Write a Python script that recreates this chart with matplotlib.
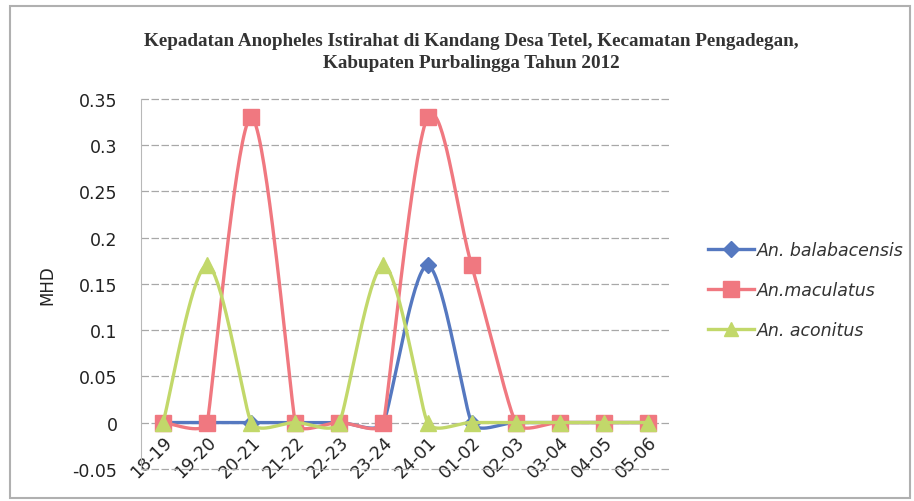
import numpy as np
import matplotlib
matplotlib.use("Agg")
import matplotlib.pyplot as plt
from matplotlib.lines import Line2D
from matplotlib.patches import Rectangle

categories = ["18-19", "19-20", "20-21", "21-22", "22-23", "23-24",
              "24-01", "01-02", "02-03", "03-04", "04-05", "05-06"]
balabacensis = [0, 0, 0, 0, 0, 0, 0.17, 0, 0, 0, 0, 0]
maculatus = [0, 0, 0.33, 0, 0, 0, 0.33, 0.17, 0, 0, 0, 0]
aconitus = [0, 0.17, 0, 0, 0, 0.17, 0, 0, 0, 0, 0, 0]

title_lines = ["Kepadatan Anopheles Istirahat di Kandang Desa Tetel, Kecamatan Pengadegan,",
               "Kabupaten Purbalingga Tahun 2012"]
labels = ["An. balabacensis", "An.maculatus", "An. aconitus"]


def smooth(ax, y, n=40):
    """Bezier smoothing (Excel-like) computed in display space."""
    pts = ax.transData.transform(np.column_stack([np.arange(len(y)), y]))
    m = len(pts)
    tang = np.zeros_like(pts)
    for i in range(m):
        pm = pts[i - 1] if i > 0 else pts[i]
        pp = pts[i + 1] if i < m - 1 else pts[i]
        t = (pp - pm) / 6.0
        d = []
        if i > 0:
            d.append(np.linalg.norm(pts[i] - pts[i - 1]))
        if i < m - 1:
            d.append(np.linalg.norm(pts[i + 1] - pts[i]))
        cap = 0.33 * min(d)
        ln = np.linalg.norm(t)
        if ln > cap and ln > 0:
            t = t * cap / ln
        tang[i] = t
    out = []
    tt = np.linspace(0, 1, n)[:, None]
    for i in range(m - 1):
        p0, p3 = pts[i], pts[i + 1]
        c1, c2 = p0 + tang[i], p3 - tang[i + 1]
        b = ((1 - tt) ** 3) * p0 + 3 * ((1 - tt) ** 2) * tt * c1 + 3 * (1 - tt) * tt ** 2 * c2 + tt ** 3 * p3
        out.append(b)
    out = ax.transData.inverted().transform(np.vstack(out))
    return out[:, 0], out[:, 1]


fig = plt.figure(figsize=(9.14, 5.02), dpi=100)
fig.patch.set_facecolor("white")
fig.patches.append(Rectangle((0.011, 0.006), 0.985, 0.98, transform=fig.transFigure,
                             fill=False, edgecolor="#b0b0b0", linewidth=1.5))

ax = fig.add_axes([0.1543, 0.0637, 0.733 - 0.1543, 0.8008 - 0.0637])
ax.spines["bottom"].set_position(("data", 0))
ax.spines["bottom"].set_visible(False)
for s in ["top", "right"]:
    ax.spines[s].set_visible(False)
ax.spines["left"].set_color("#b8b8b8")

x = np.arange(len(categories))
ax.set_xlim(-0.5, len(categories) - 0.5)
ax.set_ylim(-0.0503, 0.35)

styles = [
    (balabacensis, "#5578C0", "D", 8.5, labels[0]),
    (maculatus, "#F07880", "s", 11.5, labels[1]),
    (aconitus, "#C2D86A", "^", 11, labels[2]),
]
handles = []
for i, (vals, col, mk, ms, lab) in enumerate(styles):
    sx, sy = smooth(ax, vals)
    ax.plot(sx, sy, color=col, lw=2.4, zorder=3 + i, solid_capstyle="round")
    ax.plot(x, vals, linestyle="none", marker=mk, markersize=ms, color=col,
            markeredgecolor=col, zorder=3 + i)
    handles.append(Line2D([0], [0], color=col, lw=2.4, marker=mk, markersize=ms * 0.95,
                          markeredgecolor=col))

tick_font = {"family": "DejaVu Sans", "size": 12.5}
ax.set_yticks(np.arange(-0.05, 0.351, 0.05))
ax.set_yticklabels(["-0.05", "0", "0.05", "0.1", "0.15", "0.2", "0.25", "0.3", "0.35"],
                   fontdict=tick_font, color="#222222")
ax.set_xticks(x)
ax.set_xticklabels(categories, fontdict=tick_font, color="#222222")
for lbl in ax.get_xticklabels():
    lbl.set_rotation(45)
    lbl.set_ha("right")
    lbl.set_va("top")
    lbl.set_rotation_mode("anchor")
ax.tick_params(axis="x", length=0, pad=7)
ax.tick_params(axis="y", length=0, pad=17)
ax.grid(axis="y", color="#a8a8a8", linestyle=(0, (6, 2)), linewidth=0.9)
for gl in ax.get_ygridlines():
    gl.set_clip_on(False)
ax.set_ylabel("MHD", fontsize=12, fontfamily="DejaVu Sans", labelpad=12, color="#222222")

fig.text(0.516, 1 - 42 / 502, title_lines[0], ha="center", va="center", fontsize=13.8,
         fontfamily="Liberation Serif", fontweight="bold", color="#333333")
fig.text(0.516, 1 - 63 / 502, title_lines[1], ha="center", va="center", fontsize=13.8,
         fontfamily="Liberation Serif", fontweight="bold", color="#333333")

fig.legend(handles, labels, loc="center left", bbox_to_anchor=(0.757, 0.42),
           frameon=False, handlelength=2.7, handletextpad=0.15, labelspacing=1.25,
           prop={"family": "DejaVu Sans", "style": "italic", "size": 12.5},
           labelcolor="#333333")

fig.savefig("out.png", dpi=100, facecolor="white")
